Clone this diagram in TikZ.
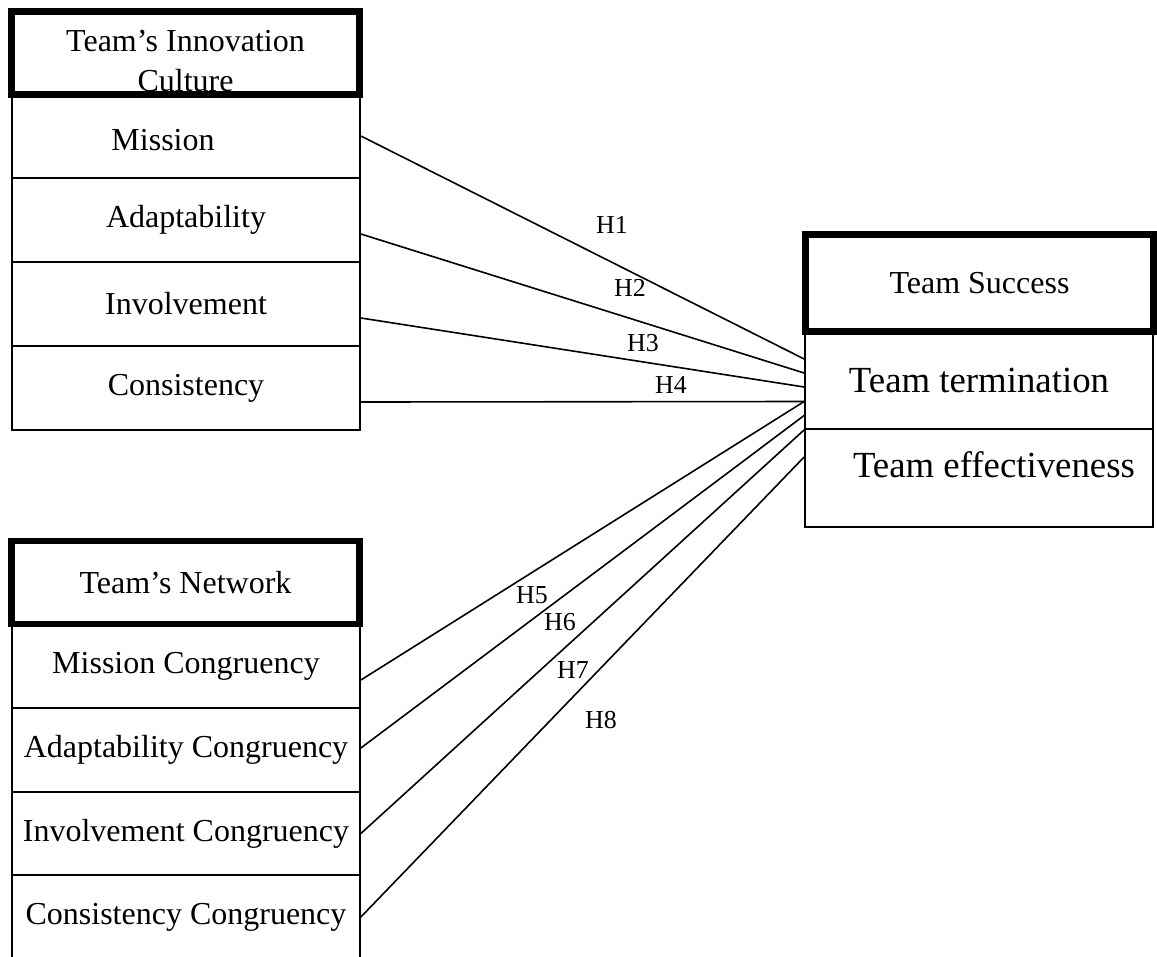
\documentclass[tikz,border=0pt]{standalone}
\usepackage{fontspec}
\setmainfont{Liberation Serif}
\usepackage{tikz}
\usetikzlibrary{calc}

\newcommand{\shifttext}[3]{\raisebox{#2}[\height][\depth]{\hspace*{#1}#3\hspace*{-#1}}}

\begin{document}
\begin{tikzpicture}[
    x=0.375pt,y=-0.375pt,
    head/.style={draw,line width=2.5pt,align=center,inner sep=1pt,
                 minimum width=130.6pt,font=\fontsize{12}{15}\selectfont},
    item/.style={draw,line width=0.65pt,align=center,inner sep=1pt,
                 minimum width=130.5pt,minimum height=31.5pt,
                 font=\fontsize{12}{15}\selectfont},
    outcome/.style={item,font=\fontsize{13.8}{16}\selectfont},
    link/.style={line width=0.6pt},
    hyp/.style={inner sep=0pt,font=\fontsize{9.7}{11}\selectfont}
]
\path[fill=white,use as bounding box] (0,0) rectangle (1157,956);

\node[item] (mission) at (186,136) {\shifttext{-8.6pt}{-1.5pt}{Mission}};
\node[item] (adapt) at (186,220) {Adaptability};
\node[item] (invol) at (186,304) {Involvement};
\node[item] (consist) at (186,388) {Consistency};
\node[head,minimum height=31.2pt] (culture) at (185.5,53)
    {\shifttext{0pt}{-3pt}{Team's Innovation}\\\shifttext{0pt}{-3pt}{Culture}};

\node[item] (mcong) at (186,666) {Mission Congruency};
\node[item] (acong) at (186,750) {Adaptability Congruency};
\node[item] (icong) at (186,833.5) {Involvement Congruency};
\node[item] (ccong) at (186,917) {Consistency Congruency};
\node[head,minimum height=31.1pt] (network) at (185.5,582.5) {Team's Network};

\node[outcome,minimum height=36.4pt] (term) at (979,380.5) {Team termination};
\node[outcome,minimum height=36.75pt] (eff) at (979,478)
    {\shifttext{5.6pt}{4.9pt}{Team effectiveness}};
\node[head,minimum height=36.5pt] (success) at (979.5,283) {Team Success};

\draw[link] (mission.east) -- ($(term.west)+(0,-21.5)$);
\draw[link] ($(adapt.east)+(0,14)$) -- ($(term.west)+(0,-7.5)$);
\draw[link] ($(invol.east)+(0,14)$) -- ($(term.west)+(0,6.5)$);
\draw[link] ($(consist.east)+(0,14)$) -- ($(term.west)+(0,21)$);
\draw[link] ($(mcong.east)+(0,14)$) -- ($(term.west)+(0,21)$);
\draw[link] ($(acong.east)+(0,-2)$) -- ($(term.west)+(0,35)$);
\draw[link] (icong.east) -- (term.south west);
\draw[link] (ccong.east) -- ($(eff.west)+(0,-21)$);

\node[hyp] (h1) at (612,225) {H1};
\node[hyp] (h2) at (630,288) {H2};
\node[hyp] (h3) at (643,343) {H3};
\node[hyp] (h4) at (671,385) {H4};
\node[hyp] (h5) at (532,595) {H5};
\node[hyp] (h6) at (560,622) {H6};
\node[hyp] (h7) at (573,670) {H7};
\node[hyp] (h8) at (601,720) {H8};
\end{tikzpicture}
\end{document}
